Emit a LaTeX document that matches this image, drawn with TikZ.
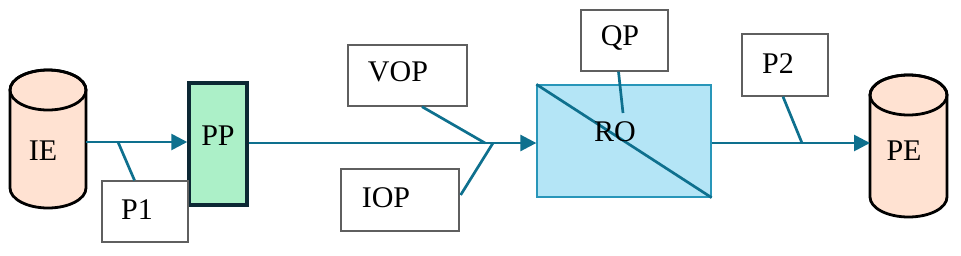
\documentclass[tikz,border=0pt]{standalone}
\usepackage{fontspec}
\setmainfont{Liberation Serif}
\usetikzlibrary{arrows.meta,calc}
\definecolor{lineblue}{RGB}{14,112,142}
\definecolor{rofill}{RGB}{180,229,246}
\definecolor{roborder}{RGB}{40,150,185}
\definecolor{ppfill}{RGB}{172,240,200}
\definecolor{ppborder}{RGB}{12,40,52}
\definecolor{cylfill}{RGB}{255,226,210}
\definecolor{boxborder}{RGB}{95,95,95}
\tikzset{
  lbl/.style={font=\fontsize{30}{32}\selectfont, inner sep=0pt},
  parbox/.style={draw=boxborder, line width=1.3pt, fill=white, inner sep=0pt},
  conn/.style={draw=lineblue, line width=2.7pt},
  arr/.style={conn, -{Triangle[length=16pt,width=16pt]}},
  cyl/.style={draw=black, line width=2.8pt, fill=cylfill},
}
\begin{document}
\begin{tikzpicture}[x=1pt,y=-1pt]
\useasboundingbox (0,0) rectangle (961,255);
% cylinders
\path[cyl] (10,90) -- (10,188) arc[start angle=180,end angle=0,x radius=38,y radius=20] -- (86,90) arc[start angle=0,end angle=-180,x radius=38,y radius=20] -- cycle;
\draw[line width=2.8pt] (48,90) ellipse[x radius=38,y radius=20];
\node[lbl] (ie) at (43,151) {IE};
\path[cyl] (870,95) -- (870,197) arc[start angle=180,end angle=0,x radius=38.5,y radius=20] -- (947,95) arc[start angle=0,end angle=-180,x radius=38.5,y radius=20] -- cycle;
\draw[line width=2.8pt] (908.5,95) ellipse[x radius=38.5,y radius=20];
\node[lbl] (pe) at (904,151) {PE};
\coordinate (ieR) at (86,142);
\coordinate (peL) at (870,143);
% PP
\node[draw=ppborder, fill=ppfill, line width=3.5pt, minimum width=58pt, minimum height=122pt, inner sep=0pt] (pp) at (218,144) {};
\node[lbl] (pptxt) at (218,136) {PP};
% RO
\node[draw=roborder, fill=rofill, line width=1.3pt, minimum width=174pt, minimum height=112pt, inner sep=0pt] (ro) at (624,141) {};
\draw[conn] (ro.north west) -- (ro.south east);
\node[lbl] (rotxt) at (615,132) {RO};
% parameter boxes
\node[parbox, minimum width=86pt, minimum height=61pt] (p1) at (145,211.5) {};
\node[lbl] at (137,210) {P1};
\node[parbox, minimum width=119pt, minimum height=61pt] (vop) at (407.5,75.5) {};
\node[lbl] at (398,72) {VOP};
\node[parbox, minimum width=118pt, minimum height=62pt] (iop) at (400,200) {};
\node[lbl] at (386,198) {IOP};
\node[parbox, minimum width=87pt, minimum height=61pt] (qp) at (624.5,40.5) {};
\node[lbl] at (620,38) {QP};
\node[parbox, minimum width=86pt, minimum height=62pt] (p2) at (785,65) {};
\node[lbl] at (778,64) {P2};
% junctions
\coordinate (j1) at (118,142);
\coordinate (jv) at (485,143);
\coordinate (ji) at (493,143);
\coordinate (jq) at (623,113);
\coordinate (j2) at (802,143);
% main flow
\draw[arr] (ieR) -- (ieR -| pp.west);
\draw[arr] (pp.east |- jv) -- (jv -| ro.west);
\draw[arr] (ro.east |- j2) -- (peL);
% parameter connectors
\draw[conn] ($(p1.north west)!0.38!(p1.north east)$) -- (j1);
\draw[conn] ($(vop.south west)!0.62!(vop.south east)$) -- (jv);
\draw[conn] ($(iop.east)+(1,-5)$) -- (ji);
\draw[conn] ($(qp.south)+(-6,0)$) -- (jq);
\draw[conn] ($(p2.south)+(-2,0)$) -- (j2);
\end{tikzpicture}
\end{document}
